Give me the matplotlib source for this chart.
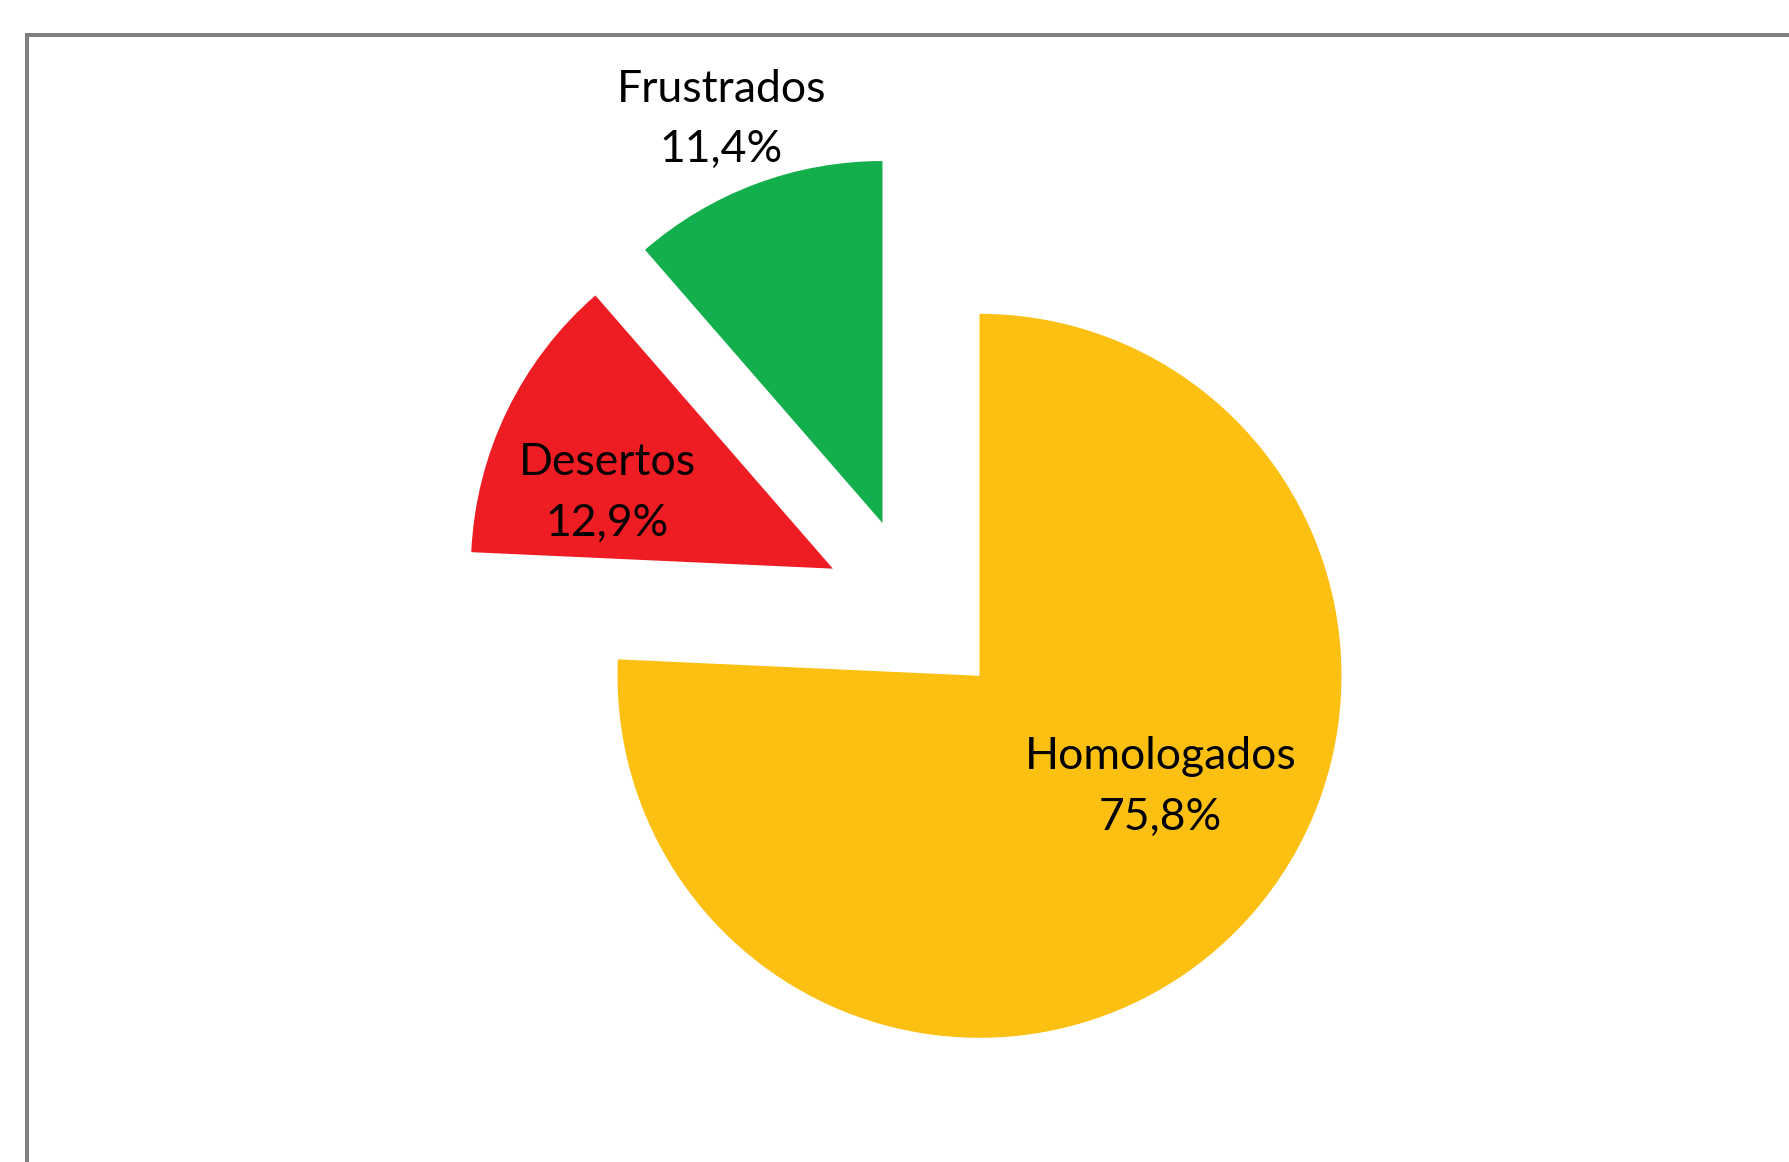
import matplotlib.pyplot as plt
from matplotlib.patches import Rectangle

labels = ["Homologados", "Desertos", "Frustrados"]
shares = [75.8, 12.9, 11.4]
colors = ["#FCC013", "#EE1D24", "#13AF4C"]

# where each slice sits once pulled out of the pie (in radius units)
slice_shift = [(0.0, 0.0), (-0.405, 0.296), (-0.268, 0.422)]
# label anchors (in radius units)
label_pos = [(0.50, -0.308), (-1.028, 0.504), (-0.713, 1.537)]

W, H = 1790, 1162
fig = plt.figure(figsize=(W / 100, H / 100), dpi=100)
ax = fig.add_axes([0, 0, 1, 1])

wedges, _ = ax.pie(shares, colors=colors, startangle=90, counterclock=False,
                   radius=1.0, wedgeprops=dict(linewidth=0))
for w, (dx, dy) in zip(wedges, slice_shift):
    w.set_center((dx, dy))

for lab, val, (x, y) in zip(labels, shares, label_pos):
    txt = f"{lab}\n{val:.1f}%".replace(".", ",")
    ax.text(x, y, txt, ha="center", va="center", fontsize=32,
            family="Lato", color="black", linespacing=1.6)

# pixel-based limits so the pie centre lands where wanted
px = 362.0
cx, cy = 979.5, 675.8
ax.set_xlim(-cx / px, (W - cx) / px)
ax.set_ylim(-(H - cy) / px, cy / px)
ax.set_aspect("auto")
ax.axis("off")

# grey frame, partly running off the canvas
fig.patches.append(Rectangle((27 / W, -0.2), 1.5, (H - 34.5) / H + 0.2,
                             transform=fig.transFigure, fill=False,
                             edgecolor="#808080", linewidth=2.9))

fig.savefig("out.png", dpi=100, facecolor="white")
